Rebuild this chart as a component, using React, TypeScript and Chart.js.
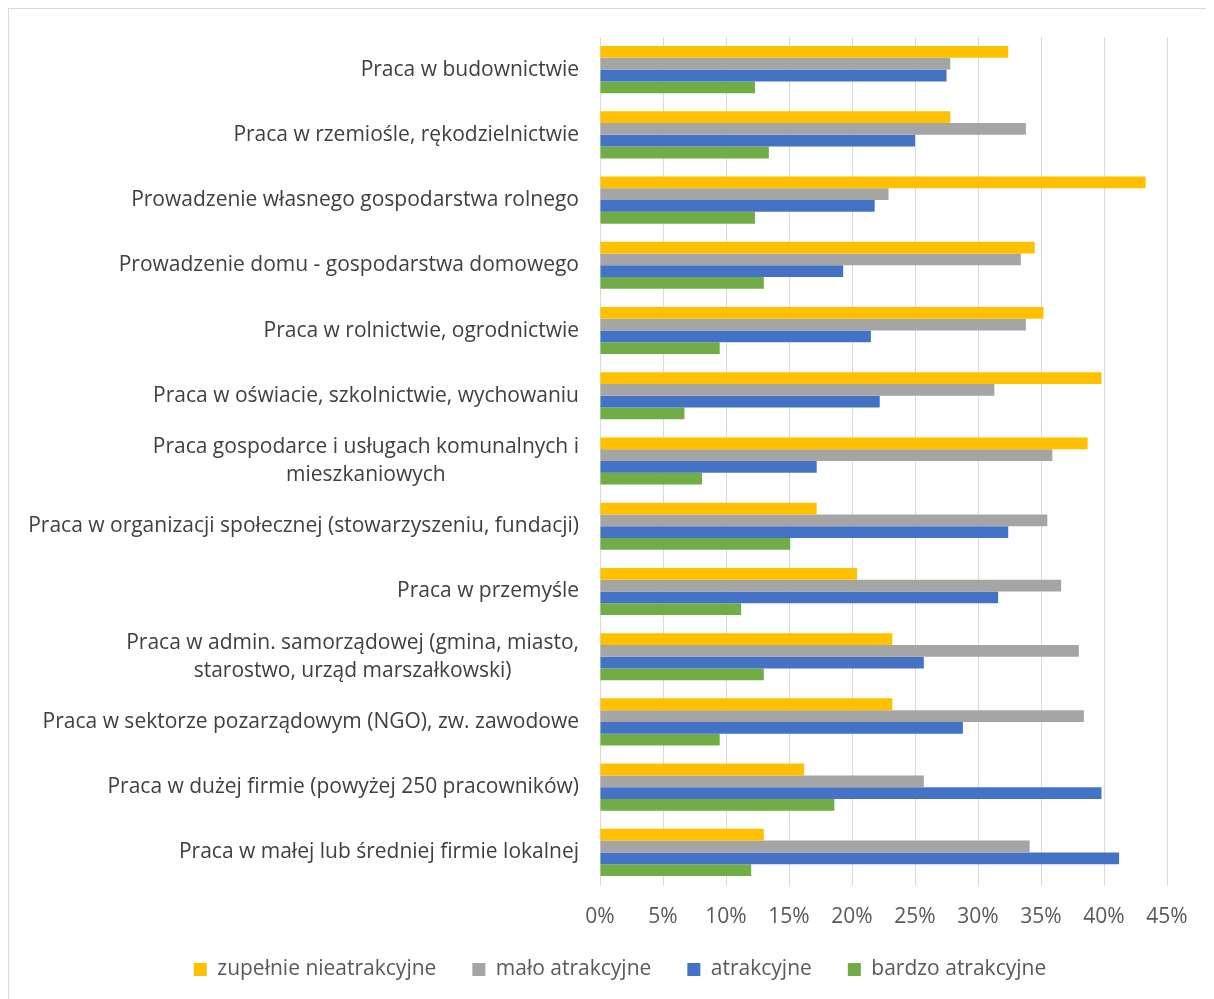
import React, { useEffect, useRef } from "react";
import { Chart, registerables } from "chart.js";

Chart.register(...registerables);

const categories: (string | string[])[] = [
  "Praca w budownictwie",
  "Praca w rzemiośle, rękodzielnictwie",
  "Prowadzenie własnego gospodarstwa rolnego",
  "Prowadzenie domu - gospodarstwa domowego",
  "Praca w rolnictwie, ogrodnictwie",
  "Praca w oświacie, szkolnictwie, wychowaniu",
  ["Praca gospodarce i usługach komunalnych i", "mieszkaniowych"],
  "Praca w organizacji społecznej (stowarzyszeniu, fundacji)",
  "Praca w przemyśle",
  ["Praca w admin. samorządowej (gmina, miasto,", "starostwo, urząd marszałkowski)"],
  "Praca w sektorze pozarządowym (NGO), zw. zawodowe",
  "Praca w dużej firmie (powyżej 250 pracowników)",
  "Praca w małej lub średniej firmie lokalnej",
];

const seriesNames = ["zupełnie nieatrakcyjne", "mało atrakcyjne", "atrakcyjne", "bardzo atrakcyjne"];

const zupelnieNieatrakcyjne = [32.4, 27.8, 43.3, 34.5, 35.2, 39.8, 38.7, 17.2, 20.4, 23.2, 23.2, 16.2, 13.0];
const maloAtrakcyjne = [27.8, 33.8, 22.9, 33.4, 33.8, 31.3, 35.9, 35.5, 36.6, 38.0, 38.4, 25.7, 34.1];
const atrakcyjne = [27.5, 25.0, 21.8, 19.3, 21.5, 22.2, 17.2, 32.4, 31.6, 25.7, 28.8, 39.8, 41.2];
const bardzoAtrakcyjne = [12.3, 13.4, 12.3, 13.0, 9.5, 6.7, 8.1, 15.1, 11.2, 13.0, 9.5, 18.6, 12.0];

const xMin = 0;
const xMax = 45;
const xStep = 5;

const colors = ["#FFC000", "#A5A5A5", "#4472C4", "#70AD47"];

const FONT = "'Open Sans'";
const FONT_SIZE = 21;

const categoryLabelPlugin = {
  id: "categoryLabels",
  afterDraw(chart: any) {
    const y = chart.scales.y;
    const ctx = chart.ctx;
    const rightEdge = chart.chartArea.left - 21;
    ctx.save();
    ctx.font = `${FONT_SIZE}px ${FONT}`;
    ctx.fillStyle = "#404040";
    ctx.textBaseline = "middle";
    ctx.textAlign = "center";
    const lineH = 28;
    categories.forEach((lab, i) => {
      const lines = Array.isArray(lab) ? lab : [lab];
      const cy = y.getPixelForTick(i);
      const widest = Math.max(...lines.map((l) => ctx.measureText(l).width));
      const cx = rightEdge - widest / 2;
      const startY = cy - ((lines.length - 1) * lineH) / 2;
      lines.forEach((l, j) => ctx.fillText(l, cx, startY + j * lineH));
    });
    ctx.restore();
  },
};

export default function App() {
  const ref = useRef<HTMLCanvasElement>(null);
  useEffect(() => {
    document.documentElement.style.overflow = "hidden";
    document.body.style.overflow = "hidden";
    const data = [zupelnieNieatrakcyjne, maloAtrakcyjne, atrakcyjne, bardzoAtrakcyjne];
    const chart = new Chart(ref.current!, {
      type: "bar",
      data: {
        labels: categories as any,
        datasets: seriesNames.map((name, i) => ({
          label: name,
          data: data[i],
          backgroundColor: colors[i],
          borderWidth: 0,
          barPercentage: 1,
          categoryPercentage: 0.722,
        })),
      },
      options: {
        indexAxis: "y",
        animation: false,
        responsive: false,
        maintainAspectRatio: false,
        layout: { padding: { left: 64, right: 47, top: 28, bottom: 9 } },
        plugins: {
          tooltip: { enabled: false },
          legend: {
            position: "bottom",
            labels: {
              boxWidth: 13,
              boxHeight: 13,
              padding: 36,
              color: "#595959",
              font: { family: FONT, size: FONT_SIZE },
            },
          },
        },
        scales: {
          x: {
            min: xMin,
            max: xMax,
            ticks: {
              stepSize: xStep,
              color: "#595959",
              font: { family: FONT, size: FONT_SIZE },
              padding: 19,
              maxRotation: 0,
              autoSkip: false,
              callback: (v: any) => `${v}%`,
            },
            grid: { color: "#d9d9d9", lineWidth: 1, drawTicks: false },
            border: { display: false },
            afterFit: (s: any) => {
              s.height = 38;
            },
          },
          y: {
            ticks: { display: false },
            grid: { display: false },
            border: { display: false },
            afterFit: (s: any) => {
              s.width = 527;
            },
          },
        },
      },
      plugins: [categoryLabelPlugin],
    });
    return () => chart.destroy();
  }, []);
  return (
    <div
      style={{
        width: 1205,
        height: 990,
        borderLeft: "1px solid #d9d9d9",
        borderTop: "1px solid #d9d9d9",
        background: "#fff",
      }}
    >
      <canvas ref={ref} width={1205} height={990} style={{ display: "block" }} />
    </div>
  );
}
